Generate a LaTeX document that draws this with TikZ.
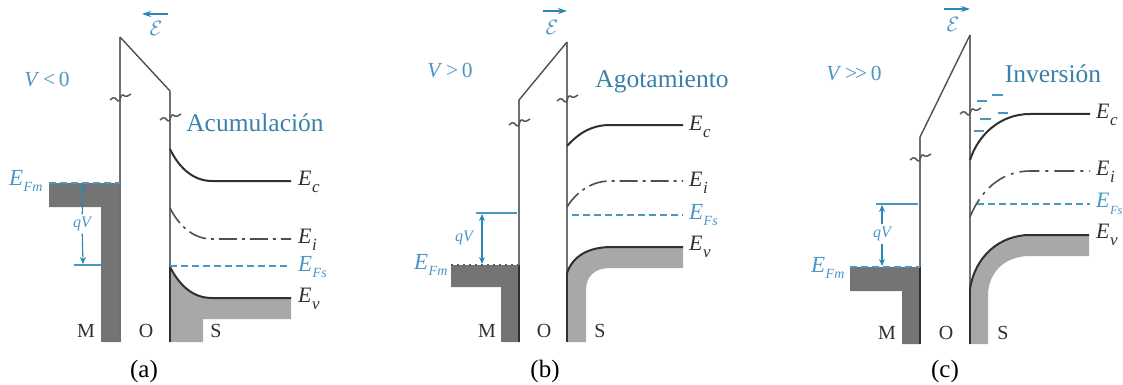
\documentclass[tikz,border=0pt]{standalone}
\usepackage{fontspec}
\setmainfont{Liberation Serif}
\usetikzlibrary{arrows.meta}
\definecolor{cblue}{HTML}{4A97C4}
\definecolor{hblue}{HTML}{3A80A8}
\definecolor{dblue}{HTML}{2E86B5}
\definecolor{metal}{HTML}{747474}
\definecolor{semi}{HTML}{A8A8A8}
\definecolor{ink}{HTML}{303030}
\definecolor{wall}{HTML}{707070}
\newcommand{\lv}[2]{\textit{E}\kern0.02em\raisebox{-0.3em}{\fontsize{#2}{#2}\selectfont\textit{#1}}}
\newcommand{\brk}[2]{\draw[breakline] (#1-10,#2+3) -- (#1-6,#2) -- (#1-1,#2+5) -- (#1+2,#2-3) -- (#1+6,#2) -- (#1+11,#2-3);}
\tikzset{
  x=1pt,y=-1pt,
  wallline/.style={draw=wall,line width=1.6pt},
  breakline/.style={draw=ink!80,line width=1.5pt,line join=round,rounded corners=1.5pt},
  slant/.style={draw=ink!85,line width=1.4pt},
  metalfill/.style={fill=metal,draw=none},
  semifill/.style={fill=semi,draw=none},
  level/.style={draw=ink,line width=2pt},
  midlevel/.style={draw=ink!85,line width=1.6pt,dash pattern=on 18pt off 5pt on 3pt off 5pt},
  fermi/.style={draw=cblue,line width=1.6pt,dash pattern=on 7pt off 4pt},
  tick/.style={draw=cblue,line width=1.5pt},
  qvarrow/.style={draw=dblue,line width=1.1pt,-{Stealth[length=7pt,width=6pt]}},
  fieldarrow/.style={draw=dblue,line width=1.2pt,-{Stealth[length=9pt,width=6pt]}},
  edge/.style={draw=ink,line width=1.5pt},
  heading/.style={text=hblue,font=\fontsize{25.5}{25.5}\selectfont,inner sep=0pt},
  cond/.style={text=cblue,font=\fontsize{21.5}{21.5}\selectfont,inner sep=0pt},
  blue label/.style={text=cblue,font=\fontsize{23}{23}\selectfont,inner sep=0pt,anchor=west},
  ink label/.style={text=ink,font=\fontsize{22}{22}\selectfont,inner sep=0pt,anchor=west},
  qvlabel/.style={text=cblue,font=\fontsize{16}{16}\selectfont\itshape,inner sep=2.5pt},
  region/.style={text=ink,font=\fontsize{20}{20}\selectfont,inner sep=0pt},
  caption/.style={text=black,font=\fontsize{25}{25}\selectfont,inner sep=0pt},
  fieldlabel/.style={text=cblue,font=\fontsize{22}{22}\selectfont,inner sep=0pt},
  carrier/.style={draw=cblue,line width=1.7pt},
}
\begin{document}
\begin{tikzpicture}
\useasboundingbox (0,0) rectangle (1123,385);
% ---------- panel (a)
\fill[metalfill] (49,183) -- (120,183) -- (120,342) -- (101,342) -- (101,207) -- (49,207) -- cycle;
\fill[semifill] (170,267) .. controls (180,286) and (193,298) .. (212,298) -- (291,298) -- (291,319) -- (203,319) -- (203,342) -- (170,342) -- cycle;
\draw[wallline] (120,37) -- (120,342);
\draw[wallline] (170,91) -- (170,267);
\draw[edge] (170,267) -- (170,342);
\draw[slant] (120,37) -- (170,91);
\brk{120}{97}\brk{170}{117}
\draw[level] (170,149) .. controls (178,166) and (192,181) .. (212,181) -- (291,181);
\draw[midlevel] (170,208) .. controls (178,224) and (192,239) .. (212,239) -- (291,239);
\draw[fermi] (170,266) -- (291,266);
\draw[level] (170,267) .. controls (180,286) and (193,298) .. (212,298) -- (291,298);
\draw[fermi] (49,183) -- (120,183);
\draw[tick] (74,265) -- (101,265);
\coordinate (atop) at (83,184); \coordinate (abot) at (83,264);
\node[qvlabel] (aqv) at (82,224) {qV};
\draw[qvarrow] (aqv) -- (atop);
\draw[qvarrow] (aqv) -- (abot);
\node[blue label] (aEFm) at (9,181) {\lv{Fm}{14}};
\node[ink label] (aEc) at (298,182) {\lv{c}{17}};
\node[ink label] (aEi) at (298,240) {\lv{i}{17}};
\node[blue label] (aEFs) at (298,267) {\lv{Fs}{14}};
\node[ink label] (aEv) at (298,299) {\lv{v}{17}};
\node[region] (aM) at (86,331) {M};
\node[region] (aO) at (146,331) {O};
\node[region] (aS) at (216,331) {S};
\node[caption] (acap) at (144,371) {(a)};
\coordinate (afs) at (168,14); \coordinate (afe) at (142,14);
\draw[fieldarrow] (afs) -- (afe);
\node[fieldlabel] (afl) at (156,28) {$\mathcal{E}$};
\node[cond] (aV) at (47,80) {\textit{V}\,<\,0};
\node[heading] (ahd) at (255,123) {Acumulación};
% ---------- panel (b)
\fill[metalfill] (451,265) -- (519,265) -- (519,342) -- (501,342) -- (501,287) -- (451,287) -- cycle;
\fill[semifill] (567,273) .. controls (573,256) and (588,247) .. (612,247) -- (683,247) -- (683,268) -- (610,268) .. controls (595,268) and (586,276) .. (586,290) -- (586,342) -- (567,342) -- cycle;
\draw[wallline] (519,100) -- (519,265);
\draw[edge] (519,265) -- (519,342);
\draw[wallline] (567,42) -- (567,273);
\draw[edge] (567,273) -- (567,342);
\draw[slant] (519,100) -- (567,42);
\brk{519}{122}\brk{567}{98}
\draw[level] (567,146) .. controls (577,135) and (590,125) .. (610,125) -- (683,125);
\draw[midlevel] (567,207) .. controls (575,194) and (590,181) .. (610,181) -- (683,181);
\draw[fermi] (572,215) -- (683,215);
\draw[level] (567,273) .. controls (573,256) and (588,247) .. (612,247) -- (683,247);
\draw[draw=ink!80,line width=1.2pt,dash pattern=on 2pt off 4pt] (451,265) -- (519,265);
\draw[tick] (476,213) -- (517,213);
\coordinate (btop) at (482,214); \coordinate (bbot) at (482,264);
\node[qvlabel] (bqv) at (464,238) {qV};
\draw[qvarrow,{Stealth[length=7pt,width=6pt]}-{Stealth[length=7pt,width=6pt]}] (btop) -- (bbot);
\node[blue label] (bEFm) at (414,265) {\lv{Fm}{14}};
\node[ink label] (bEc) at (689,127) {\lv{c}{17}};
\node[ink label] (bEi) at (689,183) {\lv{i}{17}};
\node[blue label] (bEFs) at (689,215) {\lv{Fs}{14}};
\node[ink label] (bEv) at (689,247) {\lv{v}{17}};
\node[region] (bM) at (487,331) {M};
\node[region] (bO) at (544,331) {O};
\node[region] (bS) at (600,331) {S};
\node[caption] (bcap) at (545,371) {(b)};
\coordinate (bfs) at (543,11); \coordinate (bfe) at (567,11);
\draw[fieldarrow] (bfs) -- (bfe);
\node[fieldlabel] (bfl) at (552,27) {$\mathcal{E}$};
\node[cond] (bV) at (450,71) {\textit{V}\,>\,0};
\node[heading] (bhd) at (662,82) {Agotamiento};
% ---------- panel (c)
\fill[metalfill] (850,267) -- (920,267) -- (920,344) -- (902,344) -- (902,291) -- (850,291) -- cycle;
\fill[semifill] (970,289) .. controls (975,256) and (1000,235) .. (1030,235) -- (1089,235) -- (1089,256) -- (1030,256) .. controls (1005,256) and (988,272) .. (988,296) -- (988,344) -- (970,344) -- cycle;
\draw[wallline] (920,137) -- (920,267);
\draw[edge] (920,267) -- (920,344);
\draw[wallline] (970,35) -- (970,289);
\draw[edge] (970,289) -- (970,344);
\draw[slant] (920,137) -- (970,35);
\brk{920}{157}\brk{970}{111}
\draw[level] (970,160) .. controls (978,135) and (1000,114) .. (1030,114) -- (1090,114);
\draw[midlevel,dash pattern=on 20pt off 6pt on 3pt off 6pt] (970,217) .. controls (980,192) and (1000,171) .. (1030,171) -- (1090,171);
\draw[fermi] (977,204) -- (1090,204);
\draw[level] (970,289) .. controls (975,256) and (1000,235) .. (1030,235) -- (1089,235);
\draw[fermi] (850,267) -- (920,267);
\draw[tick] (876,204) -- (918,204);
\coordinate (ctop) at (882,205); \coordinate (cbot) at (882,266);
\node[qvlabel] (cqv) at (882,234) {qV};
\draw[qvarrow] (cqv) -- (ctop);
\draw[qvarrow] (cqv) -- (cbot);
\node[blue label] (cEFm) at (811,268) {\lv{Fm}{14}};
\node[ink label] (cEc) at (1096,115) {\lv{c}{17}};
\node[ink label] (cEi) at (1096,172) {\lv{i}{17}};
\node[blue label,font=\fontsize{22}{22}\selectfont] (cEFs) at (1096,204) {\lv{Fs}{12.5}};
\node[ink label] (cEv) at (1096,235) {\lv{v}{17}};
\node[region] (cM) at (887,333) {M};
\node[region] (cO) at (946,333) {O};
\node[region] (cS) at (1003,333) {S};
\node[caption] (ccap) at (945,371) {(c)};
\coordinate (cfs) at (944,9); \coordinate (cfe) at (970,9);
\draw[fieldarrow] (cfs) -- (cfe);
\node[fieldlabel] (cfl) at (953,24) {$\mathcal{E}$};
\node[cond] (cV) at (854,74) {\textit{V}\,>{}\kern-0.1em>\,0};
\node[heading] (chd) at (1053,74) {Inversión};
\draw[carrier] (977,101) -- (987,101);
\draw[carrier] (992,95) -- (1003,95);
\draw[carrier] (980,119) -- (991,119);
\draw[carrier] (998,113) -- (1008,113);
\draw[carrier] (974,131) -- (984,131);
\end{tikzpicture}
\end{document}
